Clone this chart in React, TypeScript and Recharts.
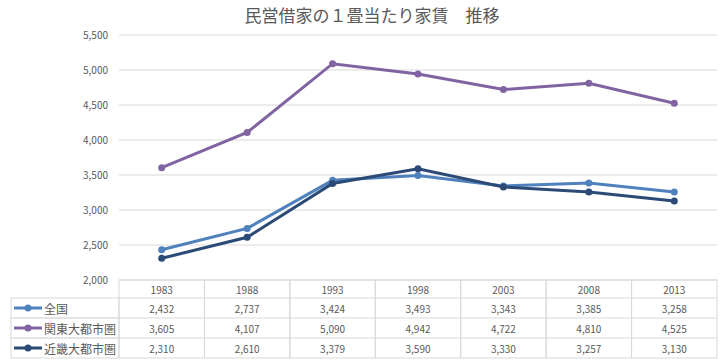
import { LineChart, Line, XAxis, YAxis, CartesianGrid } from 'recharts';

const years = ['1983', '1988', '1993', '1998', '2003', '2008', '2013'];
const zenkoku = [2432, 2737, 3424, 3493, 3343, 3385, 3258];
const kanto = [3605, 4107, 5090, 4942, 4722, 4810, 4525];
const kinki = [2310, 2610, 3379, 3590, 3330, 3257, 3130];
const yTicks = [2000, 2500, 3000, 3500, 4000, 4500, 5000, 5500];

const series = [
  { key: 'zenkoku', name: '全国', color: '#4f81bd', values: zenkoku },
  { key: 'kanto', name: '関東大都市圏', color: '#8064a2', values: kanto },
  { key: 'kinki', name: '近畿大都市圏', color: '#2b4a76', values: kinki },
];

const chartData = years.map((y, i) => ({
  year: y,
  zenkoku: zenkoku[i],
  kanto: kanto[i],
  kinki: kinki[i],
}));

const FONT = '"Noto Sans CJK JP", "Noto Sans", sans-serif';
const BORDER = '#d9d9d9';
const TEXT = '#595959';
const COL_W = (717 - 119) / 7;
const HEAD_H = 18;
const ROW_H = 20;
const LEGEND_X = 11;

const fmt = (v: number) => v.toLocaleString('en-US');

// one column of the data table under each category
function TableTick(props: any) {
  const { x, y, payload, index } = props;
  const left = x - COL_W / 2;
  const top = y;
  const col = years.indexOf(payload.value);
  return (
    <g>
      <rect x={left} y={top} width={COL_W} height={HEAD_H + ROW_H * 3} fill="none" stroke={BORDER} />
      <text x={x} y={top + HEAD_H / 2} textAnchor="middle" dominantBaseline="central" fontSize={10} fill={TEXT} fontFamily={FONT}>
        {payload.value}
      </text>
      {series.map((s, r) => (
        <g key={s.key}>
          <line x1={left} x2={left + COL_W} y1={top + HEAD_H + ROW_H * r} y2={top + HEAD_H + ROW_H * r} stroke={BORDER} />
          <text x={x} y={top + HEAD_H + ROW_H * r + ROW_H / 2} textAnchor="middle" dominantBaseline="central" fontSize={10} fill={TEXT} fontFamily={FONT}>
            {fmt(s.values[col])}
          </text>
        </g>
      ))}
      {index === 0 &&
        series.map((s, r) => {
          const ry = top + HEAD_H + ROW_H * r;
          return (
            <g key={'lg' + s.key}>
              <rect x={LEGEND_X} y={ry} width={left - LEGEND_X} height={ROW_H} fill="none" stroke={BORDER} />
              <line x1={LEGEND_X + 3} x2={LEGEND_X + 31} y1={ry + ROW_H / 2} y2={ry + ROW_H / 2} stroke={s.color} strokeWidth={3} />
              <circle cx={LEGEND_X + 17} cy={ry + ROW_H / 2} r={3.5} fill={s.color} />
              <text x={LEGEND_X + 33} y={ry + ROW_H / 2} dominantBaseline="central" fontSize={12} fill={TEXT} fontFamily={FONT}>
                {s.name}
              </text>
            </g>
          );
        })}
    </g>
  );
}

export default function App() {
  return (
    <div style={{ position: 'absolute', left: 0, top: 0, width: 724, height: 363, background: '#fff', fontFamily: FONT }}>
      <div style={{ position: 'absolute', left: 0, top: 4, width: 744, textAlign: 'center', fontSize: 17, color: TEXT, lineHeight: '22px' }}>
        民営借家の１畳当たり家賃　推移
      </div>
      <LineChart width={724} height={363} data={chartData} margin={{ top: 35, right: 7, bottom: 0, left: 0 }}>
        <CartesianGrid vertical={false} stroke={BORDER} />
        <XAxis
          dataKey="year"
          height={83}
          axisLine={false}
          tickLine={false}
          tickSize={0}
          tickMargin={0}
          padding={{ left: COL_W / 2, right: COL_W / 2 }}
          interval={0}
          tick={<TableTick />}
        />
        <YAxis
          width={119}
          domain={[2000, 5500]}
          ticks={yTicks}
          axisLine={false}
          tickLine={false}
          tickSize={0}
          tickMargin={11}
          tickFormatter={fmt}
          tick={{ fontSize: 10, fill: TEXT, fontFamily: FONT }}
        />
        {series.map((s) => (
          <Line
            key={s.key}
            dataKey={s.key}
            name={s.name}
            stroke={s.color}
            strokeWidth={3}
            dot={{ r: 3.5, fill: s.color, stroke: s.color, strokeWidth: 0 }}
            isAnimationActive={false}
          />
        ))}
      </LineChart>
    </div>
  );
}
